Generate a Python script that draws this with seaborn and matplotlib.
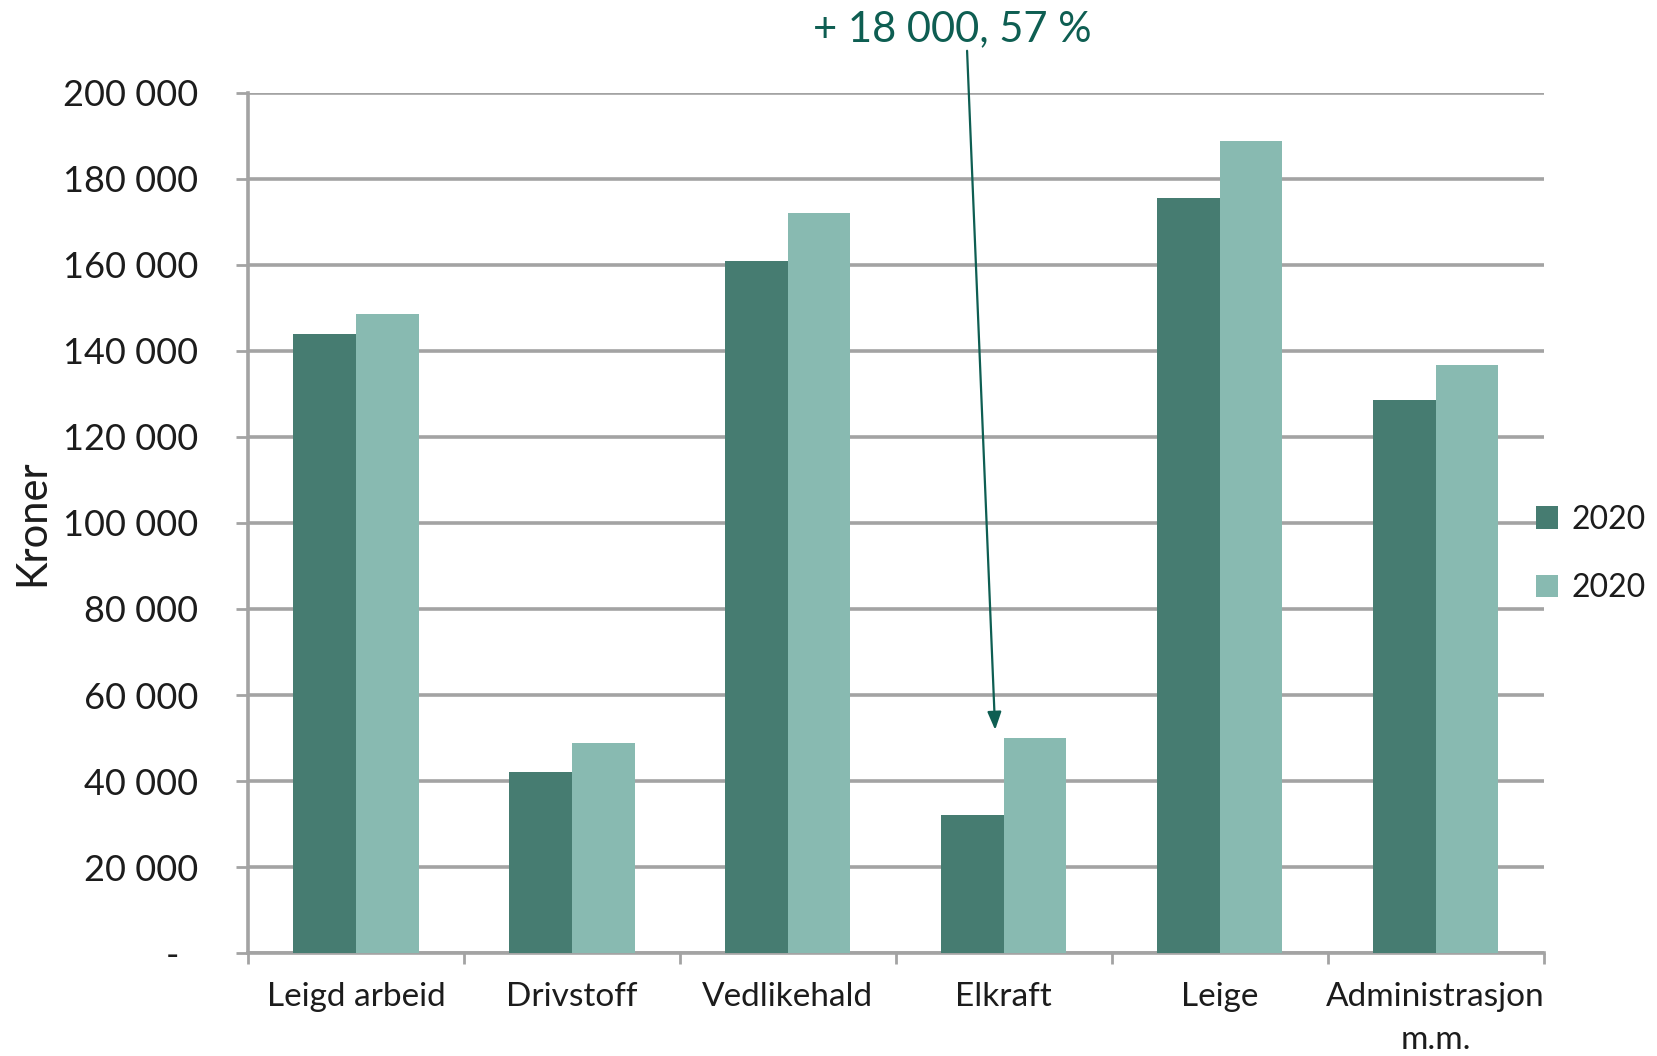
import matplotlib
matplotlib.use("Agg")
import matplotlib.pyplot as plt
from matplotlib.patches import Patch
import seaborn as sns
import pandas as pd

categories = ["Leigd arbeid", "Drivstoff", "Vedlikehald", "Elkraft", "Leige", "Administrasjon\nm.m."]
values_first = [144000, 42000, 161000, 32000, 175500, 128700]
values_second = [148600, 48800, 172000, 50000, 188900, 136800]
series_labels = ["2020", "2020"]
y_ticks = [0, 20000, 40000, 60000, 80000, 100000, 120000, 140000, 160000, 180000, 200000]
y_tick_labels = ["-  ", "20 000", "40 000", "60 000", "80 000", "100 000", "120 000",
                 "140 000", "160 000", "180 000", "200 000"]
annotation_text = "+ 18 000, 57 %"

dark = "#467C71"
light = "#88BAB1"
grid_c = "#a3a3a3"
ann_c = "#0E5E52"
txt_c = "#1c1c1c"

df = pd.DataFrame({
    "cat": categories * 2,
    "val": values_first + values_second,
    "series": ["s1"] * len(categories) + ["s2"] * len(categories),
})

sns.set_theme(style="white")
plt.rcParams["font.family"] = ["Lato", "DejaVu Sans"]

fig = plt.figure(figsize=(16.58, 10.56), dpi=100)
ax = fig.add_axes([0.1496, 0.0975, 0.931 - 0.1496, 0.912 - 0.0975])

sns.barplot(data=df, x="cat", y="val", hue="series", order=categories,
            hue_order=["s1", "s2"], palette=[dark, light], width=0.58,
            gap=0, saturation=1, ax=ax, legend=False, errorbar=None,
            linewidth=0, zorder=3)

ax.set_ylim(0, 200000)
ax.set_xlim(-0.5, len(categories) - 0.5)
ax.set_yticks(y_ticks)
ax.set_yticklabels(y_tick_labels)
ax.yaxis.grid(True, color=grid_c, linewidth=2.6, zorder=0)
ax.xaxis.grid(False)
ax.set_axisbelow(True)

for s in ["top", "right"]:
    ax.spines[s].set_visible(False)
for s in ["left", "bottom"]:
    ax.spines[s].set_color(grid_c)
    ax.spines[s].set_linewidth(2.6)

ax.tick_params(axis="y", which="major", length=9, width=2, color=grid_c,
               direction="out", pad=27, labelsize=26, labelcolor=txt_c, left=True)
ax.set_xticks(range(len(categories)))
ax.set_xticklabels(categories, linespacing=1.55)
ax.tick_params(axis="x", which="major", length=0, pad=21, labelsize=24, labelcolor=txt_c)
ax.set_xticks([i - 0.5 for i in range(len(categories) + 1)], minor=True)
ax.tick_params(axis="x", which="minor", length=8, width=2, color=grid_c, direction="out", bottom=True)

ax.set_xlabel("")
ax.set_ylabel("Kroner", fontsize=30, color=txt_c)
ax.yaxis.set_label_coords(-0.152, 0.5)

handles = [Patch(facecolor=dark, edgecolor="none"), Patch(facecolor=light, edgecolor="none")]
fig.legend(handles, series_labels, loc="center left", bbox_to_anchor=(0.9265, 0.4754),
           frameon=False, fontsize=23, handlelength=0.7, handleheight=0.7,
           handletextpad=0.4, labelspacing=1.2, borderpad=0, borderaxespad=0,
           labelcolor=txt_c)

# annotation arrow to the Elkraft increase
idx = categories.index("Elkraft")
tip = (idx - 0.04, values_second[idx] + 1900)
start = (idx - 0.17, 209800)
ax.annotate("", xy=tip, xytext=start, annotation_clip=False,
            arrowprops=dict(arrowstyle="-|>,head_length=0.9,head_width=0.35",
                            color=ann_c, lw=1.6, shrinkA=0, shrinkB=0))
ax.text(idx - 0.24, 214800, annotation_text, ha="center", va="center",
        fontsize=30, color=ann_c, clip_on=False)

fig.savefig("out.png", dpi=100)
